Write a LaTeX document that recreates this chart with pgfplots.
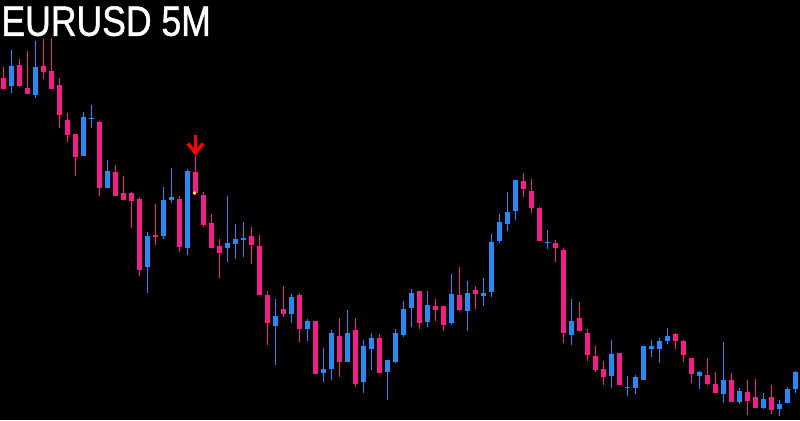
\documentclass[border=0pt]{standalone}
\usepackage{pgfplots}
\pgfplotsset{compat=1.18}
\usepackage{pgfplotstable}
\usepackage{fontspec}
\setmainfont{Liberation Sans}

\definecolor{bull}{RGB}{38,140,245}
\definecolor{bear}{RGB}{245,30,140}

% candles in screen pixels: x, high, body top, body bottom, low
\pgfplotstableread{
x hi top bot lo
11.5 50 65.7 85.7 92.7
35.5 41 66.7 95 97.7
83.5 111.7 116.7 155.7 155.7
91.5 105 117.5 119 128.3
107.5 160 171 188.3 188.3
147.5 231.7 235.7 266.7 293.3
163.5 186.7 200 235.7 239.3
171.5 168.3 196.7 200 202.7
187.5 169 171 247.7 255
227.5 196 243.3 247.7 261.7
235.5 224 239 244 259
243.5 221.7 237.7 239.3 257.3
275.5 299 316 325.7 365
291.5 294 296.7 314.3 322.7
307.5 319.3 320.7 329.3 341
323.5 347.7 369 372.7 381.7
331.5 330 332.7 369 380
347.5 310 332.7 361.7 361.7
363.5 340 346 381.7 393.3
371.5 332.7 337.7 349 370
387.5 360 360 371.7 400
395.5 329 332.7 361.7 363.3
403.5 301 309 335 336.7
411.5 289 292.7 307.7 326.7
427.5 291 305 321.7 326.7
451.5 274 294.3 322.7 325
467.5 281 293.3 310.7 330.7
483.5 277.7 293.3 295.7 305.7
491.5 234 241.7 291.7 297.3
499.5 214 222.3 241 242.7
507.5 192.3 211.7 224.3 230.7
515.5 180 180 210.7 220
547.5 230 241.5 243 249
571.5 299 321 335 345
611.5 340 354 376 387.7
627.5 376 386.5 388 396
635.5 375 376.7 387.7 394
643.5 345.7 345.7 380 380
651.5 340 345.7 349 356.7
659.5 337.7 341 349 362.7
667.5 327.7 336 341 344.3
699.5 370.7 371.7 376 389.3
723.5 341.7 380 394 403.3
739.5 388.3 390.7 401.7 404.3
763.5 393.3 399 407.7 409.3
779.5 400 404 409 416
787.5 387.3 389 403.3 403.3
795.5 370.7 371.7 389.3 392.7
}\bulltable

\pgfplotstableread{
x hi top bot lo
3.5 67 78 89 89
19.5 59 65 85.7 86.7
27.5 50.7 88 93.7 93.7
43.5 39 65.7 71.7 79
51.5 38.3 70.7 88.7 88.7
59.5 78.3 85 115 128.3
67.5 113.3 120 135 141.7
75.5 134 134 156.7 175.7
99.5 121 122.3 188.3 195.7
115.5 165 172.3 196 196
123.5 175.7 192.7 200 200
131.5 191.7 192.7 201 228.3
139.5 196.7 199 270 275.7
155.5 204 235 236.7 245
179.5 196 199 246.7 252.3
195.5 156 171.7 193.3 195
203.5 191.7 195 225 227.3
211.5 214.3 222.7 247.7 247.7
219.5 239 246 252.7 278.3
251.5 227.3 236 245 264
259.5 235 245.7 294.7 294.7
267.5 291 295 322.7 345
283.5 286 309 314 316.7
299.5 292.7 295 329.3 341.7
315.5 321 321 374 374
339.5 317.7 336 361.7 376.7
355.5 317.7 330 384 387.3
379.5 334 337.7 372.7 372.7
419.5 291 291 322.7 329.3
435.5 299.3 305.7 310 321
443.5 306 306 325 330.7
459.5 267.3 295 310 310.7
475.5 286 290 294 309.3
523.5 173.3 181 189.3 196.7
531.5 179 191 207.7 212.7
539.5 206.7 207.7 240.7 240.7
555.5 240 242.7 247.7 261.7
563.5 247.7 250 332.7 342.7
579.5 301.7 317.7 330.7 330.7
587.5 329 333 355 360.7
595.5 345.7 355.7 370 371.7
603.5 361 369 376.7 385
619.5 353 353 385 385
675.5 332.7 334 341 349
683.5 340 341 355 361.7
691.5 357.7 357.7 374 383.3
707.5 357.7 375 384 385
715.5 371.7 384 392.7 392.7
731.5 372.7 380 401.7 401.7
747.5 380 392.3 400.7 415
755.5 379 397.3 407.7 407.7
771.5 385 397.3 410 414
}\beartable

\pgfdeclareplotmark{sellarrow}{%
  \pgfsetlinewidth{3.4bp}%
  \pgfsetbuttcap\pgfsetmiterjoin
  \pgfpathmoveto{\pgfpoint{0bp}{10bp}}%
  \pgfpathlineto{\pgfpoint{0bp}{-7bp}}%
  \pgfusepathqstroke
  \pgfpathmoveto{\pgfpoint{-7.5bp}{1.5bp}}%
  \pgfpathlineto{\pgfpoint{0bp}{-8bp}}%
  \pgfpathlineto{\pgfpoint{7.5bp}{1.5bp}}%
  \pgfusepathqstroke
}

\pgfplotsset{
  candle/.style 2 args={only marks, mark=*,
    mark options={draw=none, fill=none, scale=0}, color=#1,
    error bars/.cd, y dir=both, y explicit, error mark=none,
    error bar style={line width=#2, solid, color=#1}},
}

\begin{document}
\begin{tikzpicture}
\begin{axis}[
  scale only axis,
  width=800bp, height=420bp,
  xmin=0, xmax=800, ymin=0, ymax=420,
  y dir=reverse,
  axis line style={draw=none},
  ticks=none,
  axis background/.style={fill=black},
  clip=true,
]
\addplot[candle={bull}{1bp}] table[x=x, y expr={(\thisrow{hi}+\thisrow{lo})/2},
  y error plus expr={(\thisrow{lo}-\thisrow{hi})/2},
  y error minus expr={(\thisrow{lo}-\thisrow{hi})/2}] {\bulltable};
\addplot[candle={bear}{1bp}] table[x=x, y expr={(\thisrow{hi}+\thisrow{lo})/2},
  y error plus expr={(\thisrow{lo}-\thisrow{hi})/2},
  y error minus expr={(\thisrow{lo}-\thisrow{hi})/2}] {\beartable};
\addplot[candle={bull}{5bp}] table[x=x, y expr={(\thisrow{top}+\thisrow{bot})/2},
  y error plus expr={(\thisrow{bot}-\thisrow{top})/2},
  y error minus expr={(\thisrow{bot}-\thisrow{top})/2}] {\bulltable};
\addplot[candle={bear}{5bp}] table[x=x, y expr={(\thisrow{top}+\thisrow{bot})/2},
  y error plus expr={(\thisrow{bot}-\thisrow{top})/2},
  y error minus expr={(\thisrow{bot}-\thisrow{top})/2}] {\beartable};
% sell signal
\addplot[only marks, mark=sellarrow, color=red] coordinates {(195.5,145)};
\addplot[only marks, mark=*, mark size=1.6bp, color=yellow] coordinates {(194.5,193)};
\node[anchor=north west, inner sep=0pt, text=white, xscale=0.84,
  font=\fontsize{42.5}{42.5}\selectfont\addfontfeatures{FakeBold=1.2}]
  at (rel axis cs:0,1) [xshift=1.5bp, yshift=-6bp] {EURUSD 5M};
\end{axis}
\end{tikzpicture}
\end{document}
